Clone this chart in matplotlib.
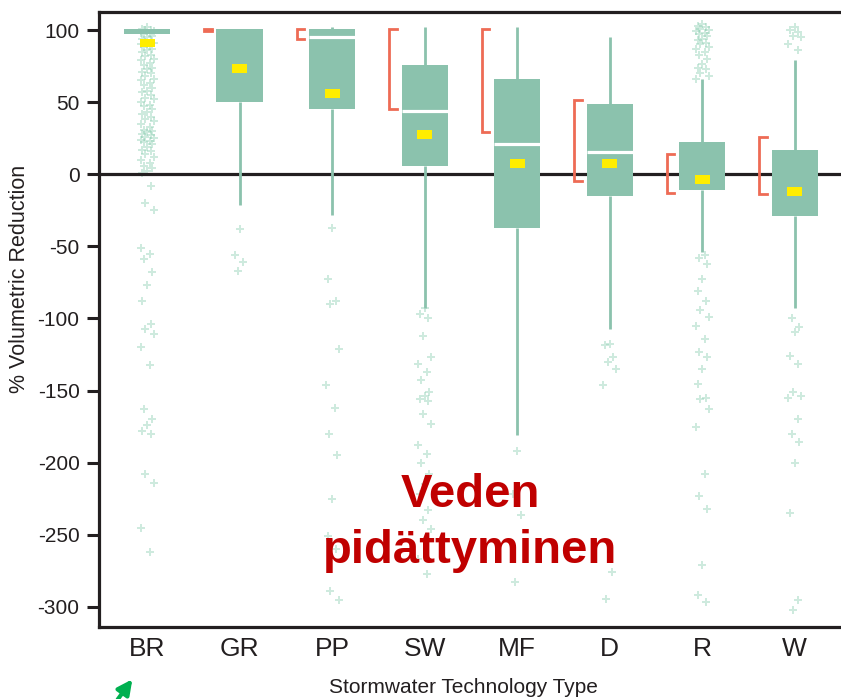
import matplotlib
matplotlib.use("Agg")
import matplotlib.pyplot as plt
from matplotlib.patches import FancyArrowPatch

plt.rcParams["font.family"] = ["Liberation Sans", "DejaVu Sans"]

CATS = ["BR", "GR", "PP", "SW", "MF", "D", "R", "W"]
Q1 = [97, 50, 45, 6, -37, -15, -11, -29]
Q3 = [101, 100.5, 101, 76, 66, 48.5, 22, 16.5]
MEDIAN = [None, None, 95, 43.5, 21, 15.5, None, None]
WHISK_LO = [97, -21, -28.5, -92.5, -181, -107.5, -54, -92.5]
WHISK_HI = [101, 100.5, 102, 102, 102, 95.5, 66, 79.5]
MEANS = [91, 73.5, 56, 27.5, 7.5, 7.5, -3.5, -12]
CI_LO = [None, 99, 94, 45, 29, -5, -13, -14]
CI_HI = [None, 100.5, 101, 101, 101, 51.5, 14, 26]

PTS_BR = [102, 101, 100, 100, 99, 98, 98, 97, 96, 95, 94, 93, 92, 91, 90, 89, 88, 87,
          86, 85, 83, 82, 80, 79, 77, 76, 74, 73, 71, 70, 68, 66, 65, 63, 62, 60, 58,
          57, 55, 53, 52, 50, 48, 47, 45, 43, 42, 40, 38, 37, 35, 33, 31, 30, 29, 28,
          27, 26, 25, 24, 23, 22, 21, 19, 17, 16, 14, 12, 10, 8, 6, 4, 2, 1,
          -8, -20, -24.5, -51, -55, -59, -68, -77, -88, -104, -107, -111, -120, -132,
          -163, -170, -174, -178, -180, -208, -214, -245, -262]
PTS_GR = [-38, -56, -61, -67]
PTS_PP = [-37, -73, -88, -90, -121.5, -146.5, -162, -180.5, -195, -225, -251, -260,
          -289, -295.5]
PTS_SW = [-93, -97, -100, -112, -127, -131.5, -137, -143, -151, -153.5, -156, -157,
          -166, -173, -188, -194, -200, -208, -215, -222, -233, -240, -246, -267, -277]
PTS_MF = [-192, -222, -236, -283]
PTS_D = [-117.5, -118.5, -127, -130, -135, -146, -276, -294.5]
PTS_R = [104, 103, 102, 101, 100, 99, 98, 97, 96, 94, 93, 91, 90, 88, 87, 85, 83, 80,
         76.5, 74, 73, 70, 68, 66, -56, -58, -62, -72.5, -81, -88, -94.5, -99, -105,
         -114, -123.5, -127, -135, -145.5, -155, -156, -163, -175.5, -208, -223, -232,
         -271, -292, -297]
PTS_W = [102, 100, 98.5, 96, 95, 90, 86, -100, -106, -109.5, -126, -131.5, -151,
         -153.5, -155, -170, -180, -186, -200, -235, -295, -302.5]
POINTS = [PTS_BR, PTS_GR, PTS_PP, PTS_SW, PTS_MF, PTS_D, PTS_R, PTS_W]

BOX = "#8BC2AD"
PT = "#8ccfb2"
YELLOW = "#FFED00"
RED = "#EE6B55"
INK = "#231f20"
JITTER = [0.0, -0.05, 0.04, -0.02, 0.07, -0.07, 0.03, -0.035, 0.05]

fig = plt.figure(figsize=(8.41, 6.99), dpi=100)
ax = fig.add_axes([99 / 841, 72 / 699, 1 - 99 / 841, 615 / 699])

for i, pts in enumerate(POINTS):
    xs = [i + JITTER[k % len(JITTER)] for k in range(len(pts))]
    ax.scatter(xs, pts, marker="P", s=40, color=PT, alpha=0.42, linewidths=0, zorder=1)

ax.axhline(0, color=INK, lw=2.3, zorder=2)

for i in range(len(CATS)):
    ax.vlines(i, WHISK_LO[i], Q1[i], color=BOX, lw=2, zorder=2.5)
    ax.vlines(i, Q3[i], WHISK_HI[i], color=BOX, lw=2, zorder=2.5)
    ax.bar(i, Q3[i] - Q1[i], bottom=Q1[i], width=0.5, color=BOX, zorder=3)
    if MEDIAN[i] is not None:
        ax.hlines(MEDIAN[i], i - 0.25, i + 0.25, color="white", lw=2.3, zorder=4)
    ax.bar(i, 6, bottom=MEANS[i] - 3, width=0.16, color=YELLOW, zorder=5)
    if CI_LO[i] is not None:
        ax.plot([i - 0.3, i - 0.385, i - 0.385, i - 0.3],
                [CI_HI[i], CI_HI[i], CI_LO[i], CI_LO[i]],
                color=RED, lw=2, solid_joinstyle="miter", zorder=4)

ax.set_xlim(-0.52, 7.5)
ax.set_ylim(-314, 112.5)
yt = list(range(-300, 101, 50))
ax.set_yticks(yt)
ax.set_yticklabels([str(v) for v in yt])
ax.set_xticks(range(len(CATS)))
ax.set_xticklabels(CATS)
ax.tick_params(axis="y", length=9, width=2.2, direction="out", labelsize=15,
               pad=5, colors=INK)
ax.tick_params(axis="x", length=0, labelsize=19, pad=7, colors=INK)
for side in ["left", "top", "bottom"]:
    ax.spines[side].set_linewidth(2.3)
    ax.spines[side].set_color(INK)
ax.spines["right"].set_visible(False)

fig.text(20 / 841, 1 - 279 / 699, "% Volumetric Reduction", rotation=90,
         fontsize=15.5, ha="center", va="center", color=INK)
fig.text(463 / 841, 2 / 699, "Stormwater Technology Type",
         fontsize=15, ha="center", va="bottom", color=INK)

fig.text(470 / 841, 1 - 507 / 699, "Veden", fontsize=34, fontweight="bold",
         color="#C00000", ha="center", va="baseline", zorder=10)
fig.text(470 / 841, 1 - 563 / 699, "pidättyminen", fontsize=34, fontweight="bold",
         color="#C00000", ha="center", va="baseline", zorder=10)

arrow = FancyArrowPatch((116 / 841, -0.004), (134 / 841, 22 / 699),
                        transform=fig.transFigure, arrowstyle="-|>",
                        mutation_scale=22, lw=3, color="#00B050")
fig.add_artist(arrow)

fig.savefig("out.png", dpi=100)
